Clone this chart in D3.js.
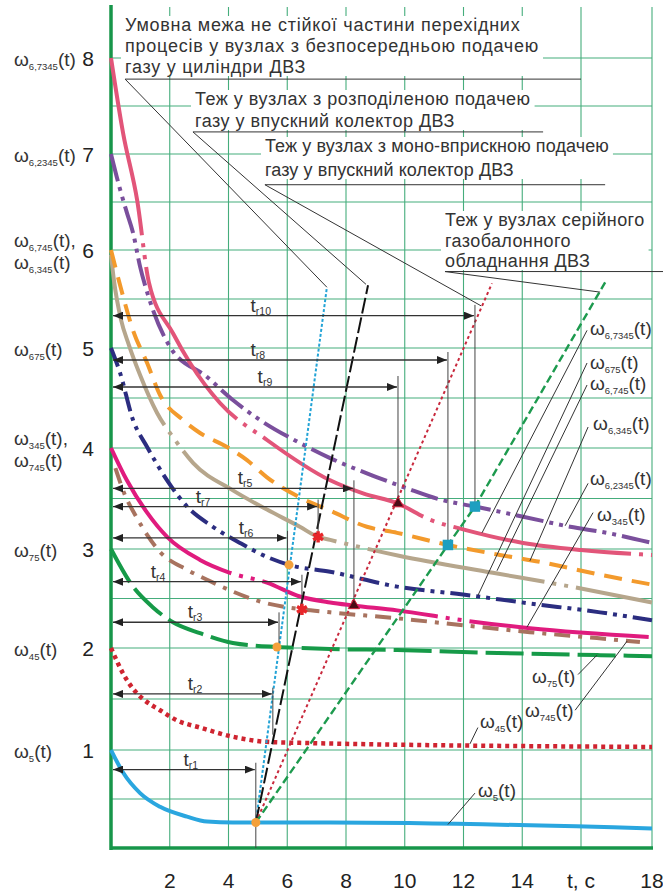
<!DOCTYPE html>
<html><head><meta charset="utf-8">
<script src="https://cdn.jsdelivr.net/npm/d3@7"></script>
<style>
html,body{margin:0;padding:0;background:#fff;}
svg{display:block;font-family:"Liberation Sans",Arial,sans-serif;}
</style></head><body>
<svg id="chart" width="663" height="891"></svg>
<script>
// ---- axis ticks ----
const tTicks = [2, 4, 6, 8, 10, 12, 14, 16, 18];
const tTickLabels = ["2", "4", "6", "8", "10", "12", "14", "t, c", "18"];
const wTicks = [1, 2, 3, 4, 5, 6, 7, 8];
const wLevelNames = [["5"], ["45"], ["75"], ["345", "745"], ["675"], ["6,745", "6,345"], ["6,2345"], ["6,7345"]];

// ---- transient curves: time t (s) and speed ω ----
const t_w6_7345 = [0, 0.41, 0.89, 1.29, 2.11, 2.69, 3.71, 5.31, 7.46, 8.58, 9.77, 10.86, 12.05, 14.03, 16, 18];
const w6_7345   = [8, 7.22, 6.52, 5.67, 5.15, 4.85, 4.45, 4.08, 3.68, 3.55, 3.45, 3.29, 3.19, 3.06, 2.99, 2.94];
const t_w6_2345 = [0, 0.31, 0.54, 0.75, 0.99, 1.26, 2.01, 3.27, 4.15, 5.07, 6.43, 7.46, 9.06, 10.08, 11.2, 12.39, 14.03, 15.63, 16.73, 18];
const w6_2345   = [7, 6.63, 6.39, 6.18, 5.83, 5.54, 5.01, 4.71, 4.48, 4.28, 4.05, 3.9, 3.71, 3.6, 3.49, 3.42, 3.32, 3.22, 3.16, 3.06];
const t_w6_345  = [0, 0.17, 0.31, 0.75, 1.23, 1.67, 2.45, 3.03, 3.95, 4.63, 5.31, 6.43, 7.46, 8.71, 9.74, 11.47, 13.24, 14.6, 16.54, 18];
const w6_345    = [6, 5.8, 5.64, 5.18, 4.85, 4.53, 4.28, 4.15, 4.01, 3.88, 3.71, 3.51, 3.38, 3.22, 3.16, 3.04, 2.94, 2.87, 2.74, 2.64];
const t_w6_745  = [0, 0.1, 0.34, 0.61, 0.99, 1.57, 2.18, 2.8, 4.15, 5.31, 6.43, 7.05, 7.46, 9.84, 13.0, 15.29, 18];
const w6_745    = [5.95, 5.69, 5.29, 5.03, 4.73, 4.35, 4.08, 3.85, 3.58, 3.39, 3.22, 3.12, 3.09, 2.93, 2.76, 2.64, 2.46];
const t_w675    = [0, 0.31, 0.75, 1.23, 1.91, 2.59, 3.47, 4.39, 5.31, 6.06, 7.46, 9.74, 11.98, 14.26, 16.54, 18];
const w675      = [5, 4.75, 4.28, 4.01, 3.68, 3.42, 3.22, 3.06, 2.92, 2.84, 2.77, 2.62, 2.54, 2.45, 2.36, 2.28];
const t_w345    = [0, 0.54, 1.23, 1.91, 3.03, 4.05, 5.31, 6.43, 7.46, 8.24, 9.74, 11.98, 14.26, 18];
const w345      = [4, 3.68, 3.36, 3.12, 2.89, 2.76, 2.66, 2.52, 2.46, 2.43, 2.38, 2.28, 2.2, 2.11];
const t_w745    = [0.15, 0.48, 0.82, 1.23, 1.67, 2.59, 3.27, 4.15, 5.07, 6.5, 7.46, 9.74, 11.98, 14.26, 16.45, 17.66];
const w745      = [3.8, 3.53, 3.34, 3.14, 2.97, 2.79, 2.69, 2.57, 2.47, 2.39, 2.36, 2.3, 2.23, 2.16, 2.1, 2.06];
const t_w75     = [0, 0.75, 1.43, 2.11, 3.03, 4.15, 5.65, 6.43, 7.46, 9.74, 11.98, 16.54, 18];
const w75       = [3, 2.62, 2.41, 2.26, 2.15, 2.05, 2.01, 2.0, 1.99, 1.98, 1.96, 1.93, 1.92];
const t_w45     = [0, 0.14, 0.41, 0.75, 1.09, 1.67, 2.25, 3.03, 4.15, 5.31, 6.43, 18];
const w45       = [2, 1.91, 1.75, 1.6, 1.5, 1.39, 1.29, 1.22, 1.13, 1.08, 1.07, 1.03];
const t_w5      = [0, 0.41, 0.99, 1.67, 2.59, 3.27, 4.15, 7.46, 18];
const w5        = [1, 0.77, 0.56, 0.42, 0.32, 0.27, 0.26, 0.26, 0.2];

// ---- intersection points ----
const dotPts = [[4.93, 0.26], [5.65, 2.01], [6.06, 2.84]];
const starPts = [[7.05, 3.12], [6.5, 2.39]];
const triPts = [[9.77, 3.45], [8.27, 2.43]];
const sqPts = [[12.39, 3.42], [11.47, 3.04]];

// ---- boundary lines of the unstable part (each starts at the common point) ----
const boundStart = [4.93, 0.26];
const boundDirect = [[7.35, 5.62]];
const boundSplit  = [[8.75, 5.64]];
const boundMono   = [[12.97, 5.66]];
const boundSerial = [[11.47, 3.04], [12.39, 3.42], [16.68, 5.67]];

// ---- transition times t_r: level of the arrow, end time, drop-line range ----
const trNames = ["r1", "r2", "r3", "r4", "r5", "r6", "r7", "r8", "r9", "r10"];
const trLevel = [0.8, 1.55, 2.26, 2.67, 3.6, 3.11, 3.42, 4.88, 4.61, 5.33];
const trTime  = [4.93, 5.51, 5.72, 6.5, 8.27, 6.01, 7.05, 11.47, 9.77, 12.39];
const trDropTop = [0.87, 1.61, 2.36, 2.74, 3.68, 3.18, 3.49, 4.96, 4.72, 5.44];
const trDropBottom = [0, 1.15, 2.0, 2.39, 2.43, 2.84, 3.12, 3.04, 3.45, 3.42];
const trLabelTime = [2.72, 2.86, 2.86, 1.6, 4.56, 4.6, 3.13, 5.0, 5.24, 5.1];

const svg = d3.select("#chart");
const x = d3.scaleLinear().domain([0, 16, 18]).range([111, 581, 652]);
const y = d3.scaleLinear().domain([0, 1, 2, 3, 4, 5, 6, 7, 8]).range([848, 750, 648, 549, 448, 348, 250, 154, 58]);
const vTop = 8.53;
const textCol = "#333";

// grid
const grid = svg.append("g").attr("stroke", "#45ad7c").attr("stroke-width", 1.1);
grid.selectAll("line.v").data(tTicks).join("line").attr("class", "v")
  .attr("x1", d => x(d)).attr("x2", d => x(d)).attr("y1", y(0)).attr("y2", y(vTop));
grid.selectAll("line.h").data(d3.range(1, 17).map(i => i / 2)).join("line").attr("class", "h")
  .attr("x1", x(0)).attr("x2", x(18)).attr("y1", d => y(d)).attr("y2", d => y(d));

// annotation notes (text blocks with white backing)
const notes = [
  {x: 125, y: 31, lh: 21, ls: 0.75, lines: ["Умовна межа не стійкої частини перехідних", "процесів у вузлах з безпосередньою подачею", "газу у циліндри ДВЗ"],
   from: [0.48, 7.78], to: boundDirect[0], ulEnd: 16},
  {x: 195, y: 105, lh: 22, ls: 0.5, lines: ["Теж у вузлах з розподіленою подачею", "газу у впускний колектор ДВЗ"],
   from: [2.79, 7.23], to: [8.68, 5.65], ulEnd: 14.71},
  {x: 265, y: 152, lh: 24, ls: 0.1, lines: ["Теж у вузлах з моно-вприскною подачею", "газу у впускний колектор ДВЗ"],
   from: [5.24, 6.68], to: [12.6, 5.43], ulEnd: 16.68},
  {x: 445, y: 226, lh: 20.5, ls: 0.4, lines: ["Теж у вузлах серійного", "газобалонного", "обладнання ДВЗ"],
   from: [11.37, 5.78], to: [16.54, 5.57], ulEnd: 18.4}
];
const bgLayer = svg.append("g");
const noteTextLayer = svg.append("g");
notes.forEach(n => {
  const g = noteTextLayer.append("g");
  n.lines.forEach((s, i) => g.append("text").attr("x", n.x).attr("y", n.y + i * n.lh)
    .attr("font-size", 18).attr("letter-spacing", n.ls).attr("fill", textCol).text(s));
  const b = g.node().getBBox();
  bgLayer.append("rect").attr("x", b.x - 4).attr("y", b.y + 1).attr("width", b.width + 8).attr("height", b.height - 2).attr("fill", "#fff");
});

// axes
svg.append("line").attr("x1", x(0)).attr("x2", x(0)).attr("y1", y(0) + 2).attr("y2", y(vTop) - 2)
  .attr("stroke", "#17964a").attr("stroke-width", 3.5);
svg.append("line").attr("x1", x(0)).attr("x2", x(18) + 1).attr("y1", y(0)).attr("y2", y(0))
  .attr("stroke", "#17964a").attr("stroke-width", 3.5);

svg.append("g").selectAll("text").data(tTicks).join("text")
  .attr("x", d => x(d)).attr("y", 888).attr("text-anchor", "middle").attr("font-size", 21).attr("fill", "#222")
  .text((d, i) => tTickLabels[i]);
svg.append("g").selectAll("text").data(wTicks).join("text")
  .attr("x", 88).attr("y", d => y(d) + 8).attr("text-anchor", "middle").attr("font-size", 21).attr("fill", "#222")
  .text(d => d);

function omega(sel, sub, tail) {
  sel.append("tspan").text("ω");
  sel.append("tspan").attr("font-size", 9.5).attr("dy", 4).text(sub);
  sel.append("tspan").attr("dy", -4).text("(t)" + tail);
}
wTicks.forEach((w, i) => {
  const names = wLevelNames[i];
  names.forEach((nm, j) => {
    const yy = names.length === 1 ? y(w) + 8 : y(w) - 3 + j * 22;
    const t = svg.append("text").attr("x", 14).attr("y", yy).attr("font-size", 19).attr("fill", textCol);
    omega(t, nm, names.length > 1 && j === 0 ? "," : "");
  });
});

// curves
const line = d3.line().x(d => x(d[0])).y(d => y(d[1])).curve(d3.curveMonotoneX);
const solidDot = "180,8,4,8,4,8";
const curves = [
  {t: t_w5, v: w5, color: "#2aa6df", dash: null, w: 4},
  {t: t_w45, v: w45, color: "#cf2430", dash: "4,4", w: 4.5},
  {t: t_w75, v: w75, color: "#169a48", dash: "38,8", w: 4},
  {t: t_w745, v: w745, color: "#a8735f", dash: "16,8,4,8", w: 4},
  {t: t_w345, v: w345, color: "#e01b7e", dash: solidDot, w: 4},
  {t: t_w675, v: w675, color: "#2b2d80", dash: "20,6,4,6,4,6", w: 4},
  {t: t_w6_745, v: w6_745, color: "#b6a68c", dash: solidDot, w: 4},
  {t: t_w6_345, v: w6_345, color: "#f39a2c", dash: "18,10", w: 4},
  {t: t_w6_2345, v: w6_2345, color: "#7a4f9c", dash: "28,6,4,6,4,6", w: 4},
  {t: t_w6_7345, v: w6_7345, color: "#e25579", dash: solidDot, w: 4}
];
svg.append("g").selectAll("path").data(curves).join("path")
  .attr("d", c => line(c.t.map((t, i) => [t, c.v[i]])))
  .attr("fill", "none").attr("stroke", c => c.color).attr("stroke-width", c => c.w)
  .attr("stroke-dasharray", c => c.dash);

// boundary lines
const straight = d3.line().x(d => x(d[0])).y(d => y(d[1]));
const bounds = [
  {pts: boundDirect, color: "#22a3d6", dash: "3,2", w: 2},
  {pts: boundSplit, color: "#111", dash: "16,4", w: 2},
  {pts: boundMono, color: "#c8283c", dash: "3,3", w: 2},
  {pts: boundSerial, color: "#1d9a4e", dash: "8,4", w: 2.4}
];
svg.append("g").selectAll("path").data(bounds).join("path")
  .attr("d", b => straight([boundStart].concat(b.pts)))
  .attr("fill", "none").attr("stroke", b => b.color).attr("stroke-width", b => b.w)
  .attr("stroke-dasharray", b => b.dash);

// note leaders and underlines
const lead = svg.append("g").attr("stroke", "#333").attr("stroke-width", 1).attr("fill", "none");
notes.forEach(n => {
  lead.append("line").attr("x1", x(n.from[0])).attr("y1", y(n.from[1])).attr("x2", x(n.ulEnd)).attr("y2", y(n.from[1]));
  lead.append("line").attr("x1", x(n.from[0])).attr("y1", y(n.from[1])).attr("x2", x(n.to[0])).attr("y2", y(n.to[1]));
});

// curve labels on the right
const curveLabels = [
  {sub: "6,7345", at: [16.25, 5.13], from: [16.17, 5.18], to: [12.63, 3.16]},
  {sub: "675", at: [16.25, 4.79], from: [16.17, 4.85], to: [12.49, 2.53]},
  {sub: "6,745", at: [16.25, 4.58], from: [16.17, 4.63], to: [13.14, 2.78]},
  {sub: "6,345", at: [16.34, 4.18], from: [16.2, 4.21], to: [14.26, 2.88]},
  {sub: "6,2345", at: [16.25, 3.63], from: [16.2, 3.65], to: [15.46, 3.23]},
  {sub: "345", at: [16.45, 3.28], from: [16.34, 3.36], to: [14.16, 2.21]},
  {sub: "75", at: [14.33, 1.66], from: [15.9, 1.74], to: [16.45, 1.93]},
  {sub: "745", at: [14.09, 1.32], from: [15.8, 1.39], to: [17.3, 2.07]},
  {sub: "45", at: [12.56, 1.22], from: [12.49, 1.22], to: [12.22, 1.06]},
  {sub: "5", at: [12.49, 0.52], from: [12.39, 0.56], to: [11.47, 0.24]}
];
curveLabels.forEach(c => {
  lead.append("line").attr("x1", x(c.from[0])).attr("y1", y(c.from[1])).attr("x2", x(c.to[0])).attr("y2", y(c.to[1]));
  const t = svg.append("text").attr("x", x(c.at[0])).attr("y", y(c.at[1])).attr("font-size", 19).attr("fill", textCol);
  omega(t, c.sub, "");
});

// t_r arrows
const defs = svg.append("defs");
defs.append("marker").attr("id", "ah").attr("viewBox", "0 0 10 8").attr("refX", 10).attr("refY", 4)
  .attr("markerWidth", 10).attr("markerHeight", 8).attr("markerUnits", "userSpaceOnUse")
  .attr("orient", "auto-start-reverse")
  .append("path").attr("d", "M0,0L10,4L0,8Z").attr("fill", "#222");
const arr = svg.append("g");
trNames.forEach((nm, i) => {
  arr.append("line").attr("x1", x(0) + 2).attr("x2", x(trTime[i]) - 1)
    .attr("y1", y(trLevel[i])).attr("y2", y(trLevel[i]))
    .attr("stroke", "#333").attr("stroke-width", 1.3)
    .attr("marker-start", "url(#ah)").attr("marker-end", "url(#ah)");
  arr.append("line").attr("x1", x(trTime[i])).attr("x2", x(trTime[i]))
    .attr("y1", y(trDropTop[i])).attr("y2", y(trDropBottom[i]))
    .attr("stroke", "#444").attr("stroke-width", 1);
  const t = arr.append("text").attr("x", x(trLabelTime[i])).attr("y", y(trLevel[i]) - 4)
    .attr("text-anchor", "middle").attr("font-size", 19).attr("fill", textCol);
  t.append("tspan").text("t");
  t.append("tspan").attr("font-size", 10.5).attr("dy", 3).text(nm);
});

// intersection markers
const mk = svg.append("g");
mk.selectAll("circle").data(dotPts).join("circle")
  .attr("cx", d => x(d[0])).attr("cy", d => y(d[1])).attr("r", 4.5).attr("fill", "#f4a03a");
mk.selectAll("path.star").data(starPts).join("path").attr("class", "star")
  .attr("transform", d => `translate(${x(d[0])},${y(d[1])})`)
  .attr("d", d3.symbol(d3.symbolAsterisk, 90)).attr("stroke", "#e8262a").attr("stroke-width", 3.5);
mk.selectAll("path.tri").data(triPts).join("path").attr("class", "tri")
  .attr("transform", d => `translate(${x(d[0])},${y(d[1])})`)
  .attr("d", d3.symbol(d3.symbolTriangle, 55)).attr("fill", "#4a0c16").attr("stroke", "#d0203a").attr("stroke-width", 1);
mk.selectAll("path.sq").data(sqPts).join("path").attr("class", "sq")
  .attr("transform", d => `translate(${x(d[0])},${y(d[1])})`)
  .attr("d", d3.symbol(d3.symbolSquare, 110)).attr("fill", "#1e9fc0");
</script>
</body></html>
